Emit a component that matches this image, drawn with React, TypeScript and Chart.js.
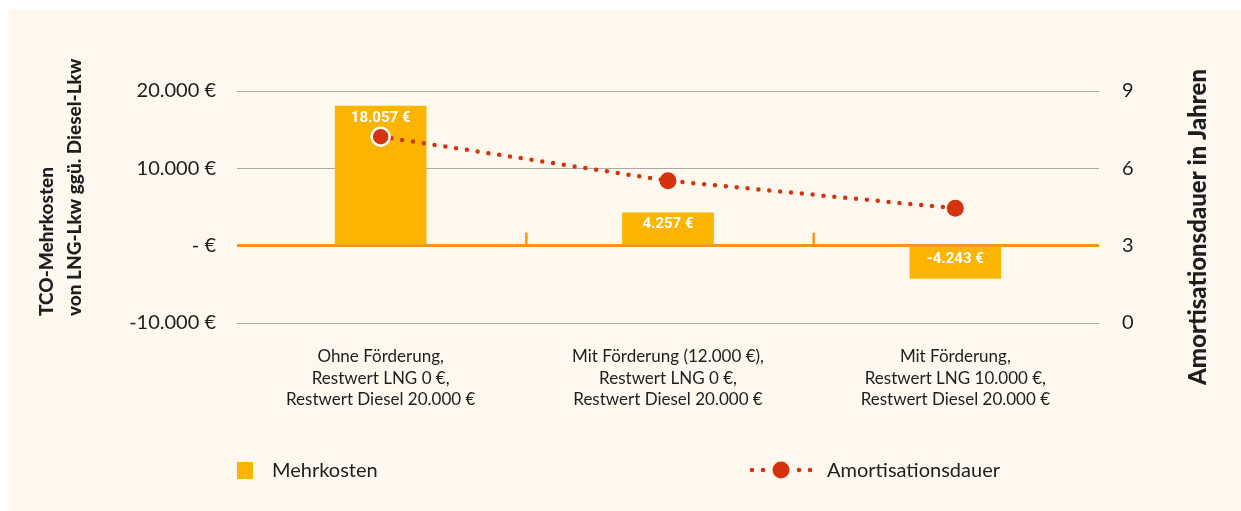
import React, { useEffect, useRef } from "react";
import { Chart, registerables } from "chart.js";

Chart.register(...registerables);

const categories: string[][] = [
  ["Ohne Förderung,", "Restwert LNG 0 €,", "Restwert Diesel 20.000 €"],
  ["Mit Förderung (12.000 €),", "Restwert LNG 0 €,", "Restwert Diesel 20.000 €"],
  ["Mit Förderung,", "Restwert LNG 10.000 €,", "Restwert Diesel 20.000 €"],
];
const mehrkosten: number[] = [18057, 4257, -4243];
const amortisation: number[] = [7.23, 5.52, 4.45];

const costTickValues: number[] = [-10000, 0, 10000, 20000];
const costTickLabels: string[] = ["-10.000 €", "- €", "10.000 €", "20.000 €"];
const yearTickValues: number[] = [0, 3, 6, 9];
const yearTickLabels: string[] = ["0", "3", "6", "9"];

const leftTitle: string[] = ["TCO-Mehrkosten", "von LNG-Lkw ggü. Diesel-Lkw"];
const rightTitle = "Amortisationsdauer in Jahren";
const legendBar = "Mehrkosten";
const legendLine = "Amortisationsdauer";

const BAR = "#fbb400";
const RED = "#d5330e";
const ORANGE = "#f7941d";
const GRID = "#aaa9a3";
const TEXT = "#1e1e1e";
const BG = "#fef8ee";

function fmtEuro(v: number): string {
  const s = Math.abs(v).toString().replace(/\B(?=(\d{3})+(?!\d))/g, ".");
  return (v < 0 ? "-" : "") + s + " €";
}

const decorPlugin = {
  id: "decor",
  beforeDatasetsDraw(chart: any) {
    const { ctx } = chart;
    const xs = chart.scales.x;
    const ys = chart.scales.y;
    const y0 = ys.getPixelForValue(0);
    ctx.save();
    ctx.strokeStyle = ORANGE;
    ctx.lineWidth = 2.5;
    for (let i = 0; i < categories.length - 1; i++) {
      const x = (xs.getPixelForValue(i) + xs.getPixelForValue(i + 1)) / 2 + 2;
      ctx.beginPath();
      ctx.moveTo(x, y0);
      ctx.lineTo(x, y0 - 13);
      ctx.stroke();
    }
    ctx.restore();
  },
  afterDatasetsDraw(chart: any) {
    const { ctx } = chart;
    const meta = chart.getDatasetMeta(1);
    ctx.save();
    ctx.fillStyle = "#ffffff";
    ctx.font = "bold 15px Roboto";
    ctx.textAlign = "center";
    ctx.textBaseline = "middle";
    meta.data.forEach((el: any, i: number) => {
      const top = Math.min(el.y, el.base);
      ctx.fillText(fmtEuro(mehrkosten[i]), el.x, top + 12);
    });
    ctx.restore();
  },
  afterDraw(chart: any) {
    const { ctx, chartArea } = chart;
    ctx.save();
    ctx.fillStyle = TEXT;
    // left title
    ctx.font = "900 19px Lato";
    ctx.textAlign = "left";
    ctx.textBaseline = "alphabetic";
    const startY = chartArea.bottom - 7;
    [45, 73].forEach((bx, i) => {
      ctx.save();
      ctx.translate(bx, startY);
      ctx.rotate(-Math.PI / 2);
      ctx.fillText(leftTitle[i], 0, 0);
      ctx.restore();
    });
    // right title
    ctx.font = "900 24px Lato";
    ctx.save();
    ctx.translate(1198, 375);
    ctx.rotate(-Math.PI / 2);
    ctx.fillText(rightTitle, 0, 0);
    ctx.restore();

    // legend
    const ly = 460;
    const l0 = chartArea.left;
    ctx.fillStyle = BAR;
    ctx.fillRect(l0, ly - 8, 16, 17);
    ctx.fillStyle = TEXT;
    ctx.font = "20px Lato";
    ctx.textBaseline = "middle";
    ctx.fillText(legendBar, l0 + 35, ly + 1);

    const l1 = l0 + 515;
    ctx.fillStyle = RED;
    [0, 11, 47, 58].forEach((dx) => {
      ctx.beginPath();
      ctx.arc(l1 + dx, ly, 2.3, 0, Math.PI * 2);
      ctx.fill();
    });
    ctx.beginPath();
    ctx.arc(l1 + 29, ly, 8.5, 0, Math.PI * 2);
    ctx.fill();
    ctx.fillStyle = TEXT;
    ctx.fillText(legendLine, l1 + 75, ly + 1);
    ctx.restore();
  },
};

export default function App() {
  const ref = useRef<HTMLCanvasElement | null>(null);

  useEffect(() => {
    if (!ref.current) return;
    const chart = new Chart(ref.current, {
      type: "bar",
      data: {
        labels: categories,
        datasets: [
          {
            type: "line",
            label: legendLine,
            data: amortisation,
            yAxisID: "y1",
            order: 0,
            borderColor: RED,
            borderWidth: 4.5,
            borderDash: [0, 10.9],
            borderCapStyle: "round",
            tension: 0,
            fill: false,
            pointRadius: [9, 8.5, 8.5],
            pointBackgroundColor: RED,
            pointBorderColor: ["#ffffff", RED, RED],
            pointBorderWidth: [2.5, 0, 0],
          } as any,
          {
            type: "bar",
            label: legendBar,
            data: mehrkosten,
            yAxisID: "y",
            order: 1,
            backgroundColor: BAR,
            barThickness: 91,
          } as any,
        ],
      },
      options: {
        responsive: false,
        animation: false,
        devicePixelRatio: 1,
        layout: { padding: { top: 81, bottom: 88, left: 0, right: 0 } },
        plugins: {
          legend: { display: false },
          tooltip: { enabled: false },
          title: { display: false },
        },
        scales: {
          x: {
            grid: { display: false },
            border: { display: false },
            ticks: {
              color: TEXT,
              font: { family: "Lato", size: 17, lineHeight: 1.27 },
              padding: 15,
              maxRotation: 0,
              autoSkip: false,
            },
            afterFit(scale: any) {
              scale.height = 100;
            },
          },
          y: {
            position: "left",
            min: -10000,
            max: 20000,
            border: { display: false },
            afterBuildTicks(scale: any) {
              scale.ticks = costTickValues.map((v) => ({ value: v }));
            },
            grid: {
              drawTicks: false,
              color: (c: any) => (c.tick && c.tick.value === 0 ? ORANGE : GRID),
              lineWidth: (c: any) => (c.tick && c.tick.value === 0 ? 3 : 1),
            },
            ticks: {
              color: TEXT,
              font: { family: "Lato", size: 20 },
              padding: 21,
              callback: (v: any) => {
                const i = costTickValues.indexOf(Number(v));
                return i >= 0 ? costTickLabels[i] : "";
              },
            },
            afterFit(scale: any) {
              scale.width = 229;
            },
          },
          y1: {
            position: "right",
            min: 0,
            max: 9,
            border: { display: false },
            afterBuildTicks(scale: any) {
              scale.ticks = yearTickValues.map((v) => ({ value: v }));
            },
            grid: { display: false, drawTicks: false },
            ticks: {
              color: TEXT,
              font: { family: "Lato", size: 20 },
              padding: 23,
              callback: (v: any) => {
                const i = yearTickValues.indexOf(Number(v));
                return i >= 0 ? yearTickLabels[i] : "";
              },
            },
            afterFit(scale: any) {
              scale.width = 142;
            },
          },
        },
      } as any,
      plugins: [decorPlugin],
    });
    return () => chart.destroy();
  }, []);

  return (
    <div
      style={{
        position: "absolute",
        left: 8,
        top: 10,
        width: 1233,
        height: 501,
        background: BG,
      }}
    >
      <canvas ref={ref} width={1233} height={501} style={{ display: "block" }} />
    </div>
  );
}
